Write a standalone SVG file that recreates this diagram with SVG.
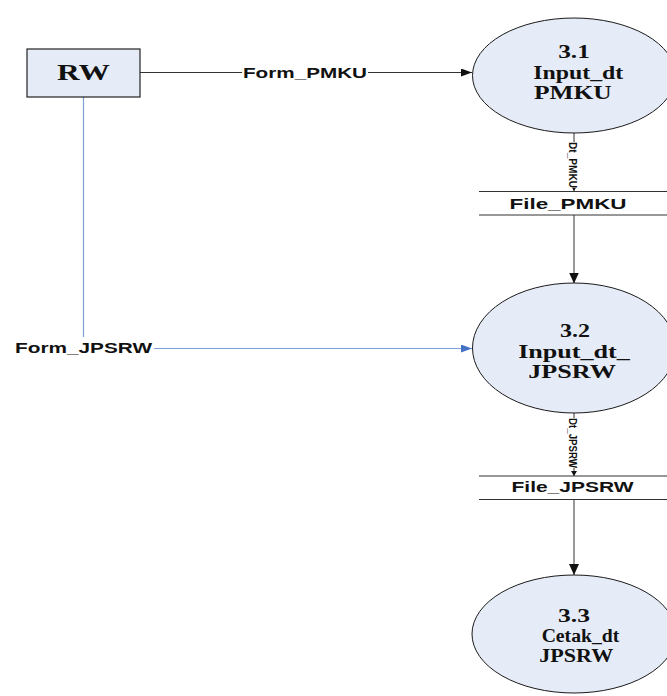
<svg xmlns="http://www.w3.org/2000/svg" width="667" height="696" viewBox="0 0 667 696">
<style>
.proc{fill:#e6ecf7;stroke:#1a1a1a;stroke-width:1}
.ent{fill:#e6ecf7;stroke:#222;stroke-width:1.2}
.st{stroke:#333;stroke-width:1;fill:none}
.ln{stroke:#333;stroke-width:1;fill:none}
.bl{stroke:#7f9fd5;stroke-width:1.2;fill:none}
.pt{font-family:"Liberation Serif","Times New Roman",serif;font-weight:bold;font-size:18px;fill:#111}
.et{font-family:"Liberation Serif","Times New Roman",serif;font-weight:bold;font-size:23px;fill:#111}
.lb{font-family:"Liberation Sans",Arial,sans-serif;font-weight:bold;font-size:14.5px;fill:#111}
.sm{font-family:"Liberation Sans",Arial,sans-serif;font-weight:bold;font-size:11px;fill:#111}
.bg{fill:#fff}
</style>
<defs>
<marker id="arr" markerUnits="userSpaceOnUse" markerWidth="12" markerHeight="12" refX="11" refY="5" orient="auto"><path d="M0,0 L11,5 L0,10 z" fill="#111"/></marker>
<marker id="arrb" markerUnits="userSpaceOnUse" markerWidth="12" markerHeight="12" refX="11" refY="4" orient="auto"><path d="M0,0 L11,4 L0,8 z" fill="#4472c4"/></marker>
<marker id="arrk" markerUnits="userSpaceOnUse" markerWidth="12" markerHeight="12" refX="11" refY="4" orient="auto"><path d="M0,0 L11,4 L0,8 z" fill="#111"/></marker>
<marker id="arrs" markerUnits="userSpaceOnUse" markerWidth="8" markerHeight="8" refX="5" refY="3" orient="auto"><path d="M0,0 L5,3 L0,6 z" fill="#111"/></marker>
</defs>

<g id="connectors">
  <path class="ln" d="M140,72.5 L472,72.5" marker-end="url(#arrk)"/>
  <rect class="bg" x="242" y="64" width="126" height="16"/>
  <text class="lb" x="243" y="77.5" textLength="124" lengthAdjust="spacingAndGlyphs">Form_PMKU</text>

  <path class="bl" d="M83.5,97 L83.5,348.5 L472,348.5" marker-end="url(#arrb)"/>
  <rect class="bg" x="13" y="337" width="141" height="19"/>
  <text class="lb" x="15" y="353" textLength="137" lengthAdjust="spacingAndGlyphs">Form_JPSRW</text>

  <path class="ln" d="M574,133 L574,191" marker-end="url(#arrs)"/>
  <g transform="translate(569,142) rotate(90)">
    <rect class="bg" x="0" y="-9" width="46" height="11"/>
    <text class="sm" x="0" y="0" textLength="46" lengthAdjust="spacingAndGlyphs">Dt_PMKU</text>
  </g>

  <path class="ln" d="M574,215 L574,283.5" marker-end="url(#arr)"/>

  <path class="ln" d="M574,413 L574,476" marker-end="url(#arrs)"/>
  <g transform="translate(569,418) rotate(90)">
    <rect class="bg" x="0" y="-9" width="50" height="11"/>
    <text class="sm" x="0" y="0" textLength="50" lengthAdjust="spacingAndGlyphs">Dt_JPSRW</text>
  </g>

  <path class="ln" d="M574,499.5 L574,575" marker-end="url(#arr)"/>
</g>

<g id="RW">
  <rect class="ent" x="27" y="49" width="113" height="48"/>
  <text class="et" x="83.5" y="79.5" text-anchor="middle" textLength="53" lengthAdjust="spacingAndGlyphs">RW</text>
</g>

<g id="p3_1">
  <ellipse class="proc" cx="574" cy="75.5" rx="101.5" ry="57.5"/>
  <text class="pt" x="574" y="58.3" text-anchor="middle" textLength="31.7" lengthAdjust="spacingAndGlyphs">3.1</text>
  <text class="pt" x="578.3" y="78.6" text-anchor="middle" textLength="90" lengthAdjust="spacingAndGlyphs">Input_dt</text>
  <text class="pt" x="572.8" y="98.8" text-anchor="middle" textLength="77.7" lengthAdjust="spacingAndGlyphs">PMKU</text>
</g>

<g id="File_PMKU">
  <path class="st" d="M479,191.5 L667,191.5 M479,215 L667,215"/>
  <text class="lb" x="509.5" y="209" textLength="117" lengthAdjust="spacingAndGlyphs">File_PMKU</text>
</g>

<g id="p3_2">
  <ellipse class="proc" cx="574" cy="348" rx="101.5" ry="65"/>
  <text class="pt" x="575" y="337.2" text-anchor="middle" textLength="30" lengthAdjust="spacingAndGlyphs">3.2</text>
  <text class="pt" x="574" y="357.5" text-anchor="middle" textLength="111.7" lengthAdjust="spacingAndGlyphs">Input_dt_</text>
  <text class="pt" x="572" y="377.7" text-anchor="middle" textLength="87.7" lengthAdjust="spacingAndGlyphs">JPSRW</text>
</g>

<g id="File_JPSRW">
  <path class="st" d="M479,476 L667,476 M479,499.5 L667,499.5"/>
  <text class="lb" x="511.5" y="492" textLength="122" lengthAdjust="spacingAndGlyphs">File_JPSRW</text>
</g>

<g id="p3_3">
  <ellipse class="proc" cx="574" cy="634" rx="102" ry="59"/>
  <text class="pt" x="574" y="621.8" text-anchor="middle" textLength="32" lengthAdjust="spacingAndGlyphs">3.3</text>
  <text class="pt" x="580.5" y="642.1" text-anchor="middle" textLength="77.7" lengthAdjust="spacingAndGlyphs">Cetak_dt</text>
  <text class="pt" x="576.3" y="662.3" text-anchor="middle" textLength="74" lengthAdjust="spacingAndGlyphs">JPSRW</text>
</g>
</svg>
